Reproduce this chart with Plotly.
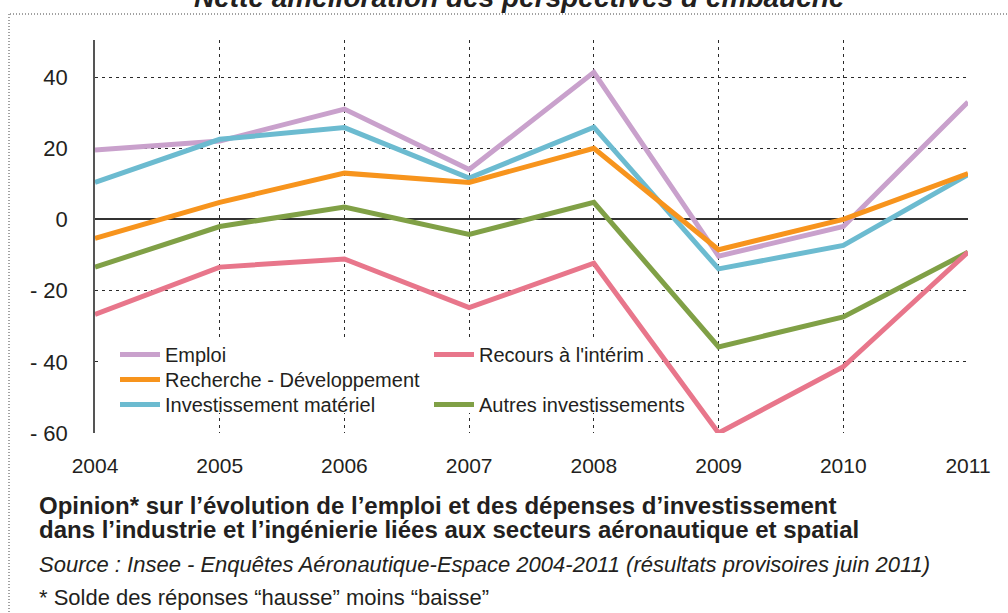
import plotly.graph_objects as go

years = [2004, 2005, 2006, 2007, 2008, 2009, 2010, 2011]

emploi = [19.5, 22, 31, 14, 41.3, -10.3, -2, 33]
recherche = [-5.3, 4.8, 13, 10.4, 20, -8.5, 0, 12.9]
invest_materiel = [10.4, 22.5, 25.8, 11.6, 25.9, -13.9, -7.3, 12.6]
recours_interim = [-26.7, -13.4, -11.1, -24.8, -12.3, -60, -41.4, -9.2]
autres_invest = [-13.4, -2, 3.5, -4.2, 4.8, -35.8, -27.4, -9.2]

ytick_vals = [40, 20, 0, -20, -40, -60]
ytick_text = ["40", "20", "0", "- 20", "- 40", "- 60"]

FONT = "Liberation Sans, Arial, sans-serif"
INK = "#231f20"

W, H = 1008, 613
L, R, T, B = 95, 40, 40, 180
PW, PH = W - L - R, H - T - B
XR = [2004, 2011]
YR = [-60, 50.4]


def px_x(x):
    return (x - L) / PW


def px_y(y):
    return 1 - (y - T) / PH


def data_x(x):
    return XR[0] + px_x(x) * (XR[1] - XR[0])


def data_y(y):
    return YR[0] + px_y(y) * (YR[1] - YR[0])


fig = go.Figure()

# (name, values, colour, legend id, legend rank) in drawing order
series = [
    ("Autres investissements", autres_invest, "#80a046", "legend5", 5),
    ("Recours à l'intérim", recours_interim, "#e8768b", "legend4", 4),
    ("Emploi", emploi, "#c9a1cc", "legend", 1),
    ("Investissement matériel", invest_materiel, "#6cbbd0", "legend3", 3),
    ("Recherche - Développement", recherche, "#f7941d", "legend2", 2),
]
for name, vals, col, leg, rank in series:
    fig.add_trace(go.Scatter(x=years, y=vals, name=name, mode="lines",
                             line=dict(color=col, width=5), legend=leg,
                             legendrank=rank, showlegend=True))

leg_common = dict(bgcolor="rgba(0,0,0,0)", font=dict(family=FONT, size=20, color=INK),
                  xanchor="left", yanchor="top", traceorder="normal",
                  borderwidth=0, itemwidth=40, visible=True)

col1_x, col2_x = 115, 429
row_y = [335, 360, 385]

GRID_DASH = "3px,4px"

fig.update_layout(
    width=W, height=H,
    margin=dict(l=L, r=R, t=T, b=B),
    paper_bgcolor="white", plot_bgcolor="white",
    font=dict(family=FONT, color=INK),
    showlegend=True,
    legend=dict(x=px_x(col1_x), y=px_y(row_y[0]), **leg_common),
    legend2=dict(x=px_x(col1_x), y=px_y(row_y[1]), **leg_common),
    legend3=dict(x=px_x(col1_x), y=px_y(row_y[2]), **leg_common),
    legend4=dict(x=px_x(col2_x), y=px_y(row_y[0]), **leg_common),
    legend5=dict(x=px_x(col2_x), y=px_y(row_y[2]), **leg_common),
    xaxis=dict(range=XR, tickvals=years, showgrid=True,
               gridcolor="#2a2a2a", griddash=GRID_DASH, gridwidth=1,
               zeroline=False, showline=False, ticks="",
               tickfont=dict(family=FONT, size=21, color=INK),
               ticklabelstandoff=18),
    yaxis=dict(range=YR, tickvals=ytick_vals, ticktext=ytick_text,
               showgrid=True, gridcolor="#2a2a2a", griddash=GRID_DASH, gridwidth=1,
               zeroline=True, zerolinecolor="#333333", zerolinewidth=1.5,
               showline=True, linecolor="#555555", linewidth=1.5, ticks="",
               tickfont=dict(family=FONT, size=22, color=INK),
               ticklabelstandoff=21),
)

# white patch behind the legend: hides the grid, lines stay on top
fig.add_shape(type="rect", xref="x", yref="y", layer="between",
              x0=data_x(100), x1=data_x(648), y0=data_y(413), y1=data_y(337),
              fillcolor="white", line=dict(width=0))

# dotted frame (top and left)
fig.add_shape(type="line", xref="paper", yref="paper",
              x0=px_x(10), x1=px_x(1008), y0=px_y(14), y1=px_y(14),
              line=dict(color="#444444", width=1, dash="1px,2px"))
fig.add_shape(type="line", xref="paper", yref="paper",
              x0=px_x(9), x1=px_x(9), y0=px_y(14), y1=px_y(613),
              line=dict(color="#444444", width=1, dash="1px,2px"))

# title, cut by the top edge
fig.add_annotation(text="<b><i>Nette amélioration des perspectives d’embauche</i></b>",
                   xref="paper", yref="paper", x=px_x(519), y=px_y(15),
                   xanchor="center", yanchor="bottom", showarrow=False,
                   font=dict(family=FONT, size=28, color=INK))

fig.add_annotation(text="<b>Opinion* sur l’évolution de l’emploi et des dépenses d’investissement</b>",
                   xref="paper", yref="paper", x=px_x(37), y=px_y(505),
                   xanchor="left", yanchor="middle", showarrow=False,
                   font=dict(family=FONT, size=24, color=INK))
fig.add_annotation(text="<b>dans l’industrie et l’ingénierie liées aux secteurs aéronautique et spatial</b>",
                   xref="paper", yref="paper", x=px_x(37), y=px_y(529),
                   xanchor="left", yanchor="middle", showarrow=False,
                   font=dict(family=FONT, size=24, color=INK))
fig.add_annotation(text="<i>Source : Insee - Enquêtes Aéronautique-Espace 2004-2011 (résultats provisoires juin 2011)</i>",
                   xref="paper", yref="paper", x=px_x(37), y=px_y(564),
                   xanchor="left", yanchor="middle", showarrow=False,
                   font=dict(family=FONT, size=22, color=INK))
fig.add_annotation(text="* Solde des réponses “hausse” moins “baisse”",
                   xref="paper", yref="paper", x=px_x(37), y=px_y(597),
                   xanchor="left", yanchor="middle", showarrow=False,
                   font=dict(family=FONT, size=22, color=INK))

# the page body has an 8px default margin; drop it so the figure fills the window
fig.write_html("out.html", config={"displayModeBar": False},
               post_script="document.body.style.margin = '0';")
